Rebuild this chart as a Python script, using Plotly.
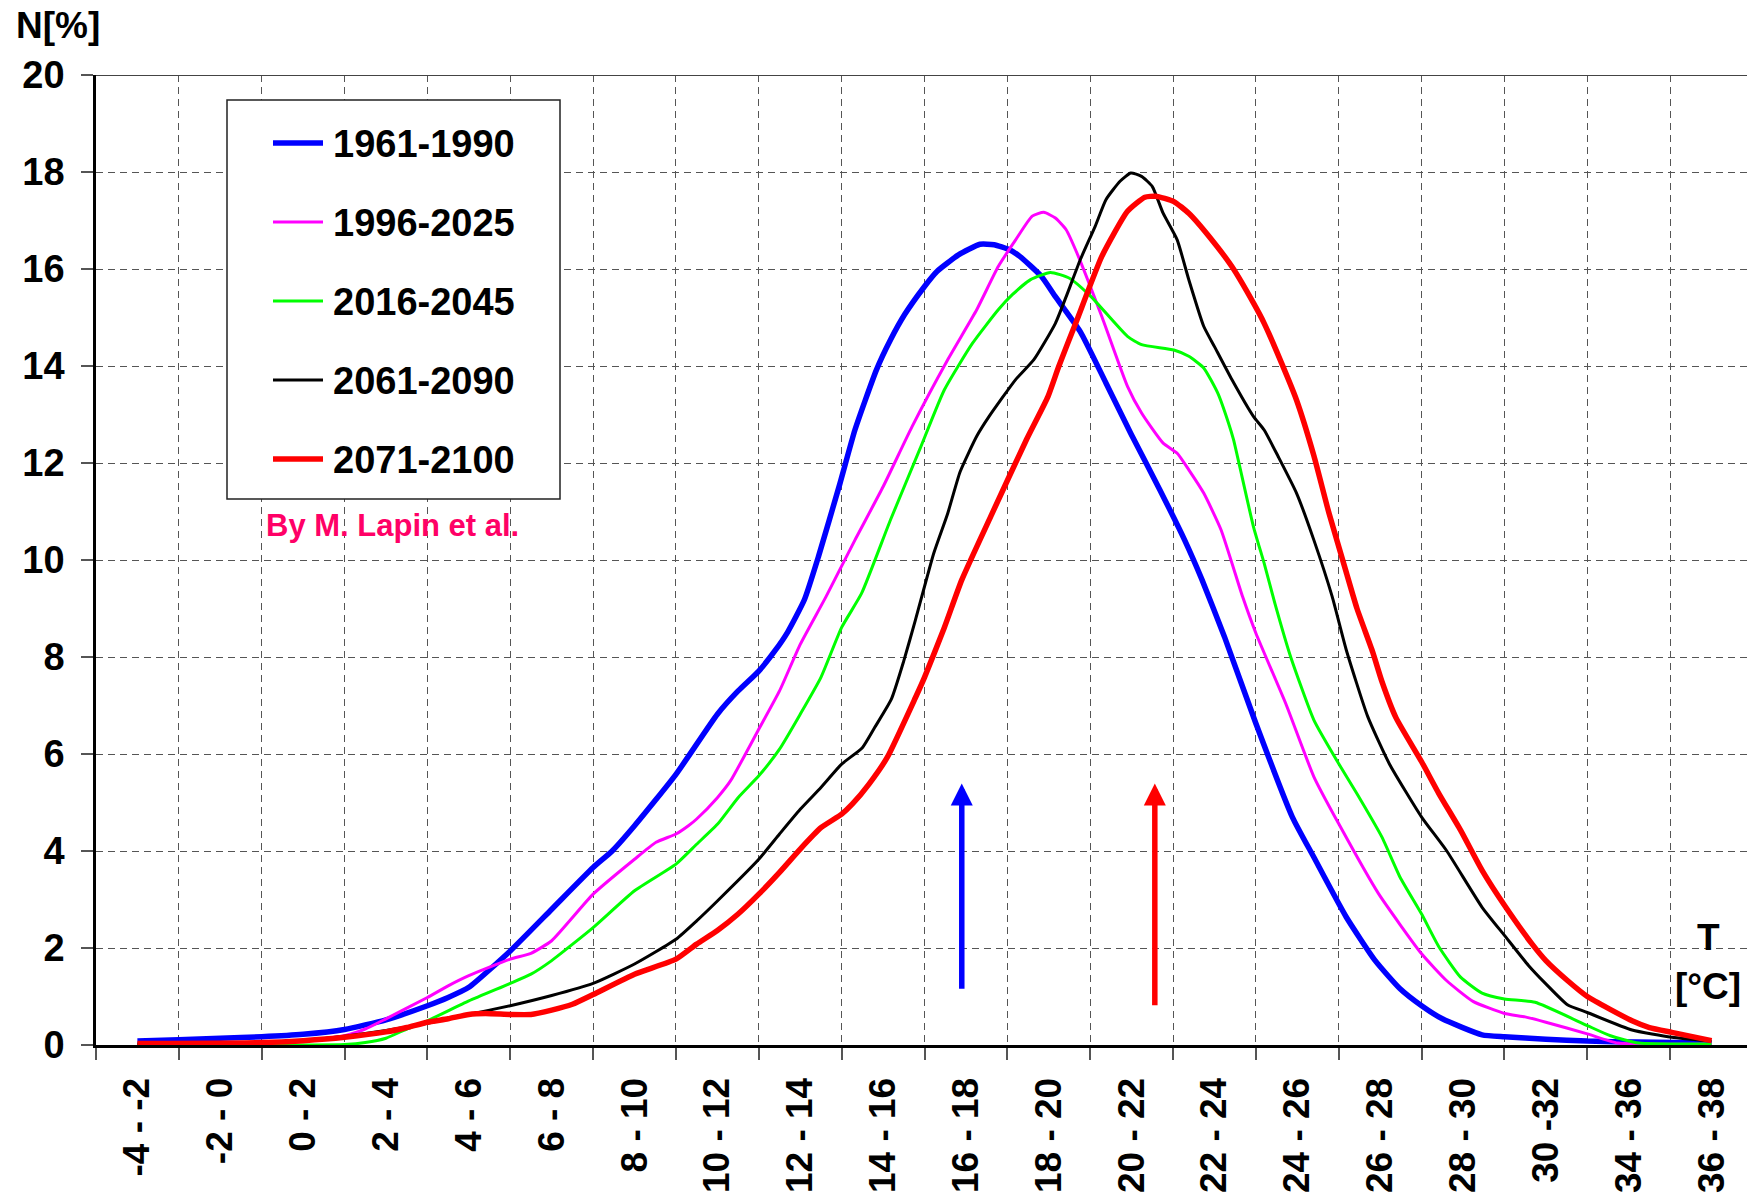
import plotly.graph_objects as go

FONT = "Liberation Sans, Arial, sans-serif"

# ---------------- data ----------------
categories = ["-4 - -2", "-2 - 0", "0 - 2", "2 - 4", "4 - 6", "6 - 8", "8 - 10",
              "10 - 12", "12 - 14", "14 - 16", "16 - 18", "18 - 20", "20 - 22",
              "22 - 24", "24 - 26", "26 - 28", "28 - 30", "30 -32", "34 - 36", "36 - 38"]
y_ticks = [0, 2, 4, 6, 8, 10, 12, 14, 16, 18, 20]

series_names = ["1961-1990", "1996-2025", "2016-2045", "2061-2090", "2071-2100"]

# positions in bin widths from the left edge of the first bin (bin centre = n + 0.5)
pos_1961 = [0.5, 1.0, 1.5, 2.0, 2.5, 3.0, 3.5, 4.0, 4.25, 4.5, 5.0, 5.5, 6.0, 6.23, 6.5,
            7.0, 7.5, 7.75, 8.0, 8.2, 8.35, 8.55, 8.72, 8.98, 9.16, 9.42, 9.59, 9.76,
            10.0, 10.15, 10.41, 10.67, 10.84, 11.02, 11.15, 11.41, 11.58, 11.88, 12.19,
            12.49, 12.84, 13.14, 13.35, 13.62, 14.0, 14.44, 14.7, 15.09, 15.44, 15.74,
            16.0, 16.25, 16.73, 17.0, 17.5, 18.0, 18.6, 19.5]
val_1961 = [0.08, 0.11, 0.14, 0.17, 0.22, 0.32, 0.52, 0.81, 0.98, 1.19, 1.94, 2.80, 3.66, 4.0, 4.52,
            5.58, 6.82, 7.30, 7.71, 8.14, 8.52, 9.18, 10.07, 11.58, 12.68, 13.92, 14.54, 15.06,
            15.64, 15.95, 16.29, 16.51, 16.50, 16.40, 16.26, 15.85, 15.43, 14.71, 13.65,
            12.61, 11.45, 10.41, 9.59, 8.42, 6.63, 4.70, 3.87, 2.64, 1.74, 1.16,
            0.81, 0.54, 0.21, 0.17, 0.12, 0.08, 0.06, 0.04]

pos_1996 = [0.5, 1.0, 2.0, 2.5, 3.0, 3.25, 3.5, 4.0, 4.25, 4.5, 5.0, 5.25, 5.5, 6.0, 6.5,
            6.76, 7.0, 7.15, 7.25, 7.5, 7.66, 7.99, 8.25, 8.5, 8.81, 9.16, 9.5, 9.85,
            10.28, 10.63, 10.89, 11.1, 11.3, 11.44, 11.58, 11.71, 11.84, 12.14, 12.45,
            12.62, 12.88, 13.05, 13.19, 13.37, 13.58, 13.84, 14.0, 14.36, 14.7, 15.0,
            15.48, 16.0, 16.3, 16.62, 17.0, 17.25, 17.5, 18.0, 18.37, 19.5]
val_1996 = [0.02, 0.02, 0.04, 0.09, 0.19, 0.33, 0.54, 0.98, 1.22, 1.43, 1.77, 1.89, 2.15, 3.11, 3.83,
            4.18, 4.35, 4.52, 4.66, 5.10, 5.45, 6.48, 7.30, 8.26, 9.24, 10.41, 11.51, 12.75,
            14.13, 15.16, 16.05, 16.60, 17.09, 17.17, 17.05, 16.81, 16.33, 15.02, 13.58,
            13.03, 12.41, 12.20, 11.86, 11.38, 10.62, 9.24, 8.49, 7.04, 5.53, 4.56,
            3.12, 1.88, 1.33, 0.90, 0.65, 0.58, 0.47, 0.23, 0.04, 0.02]

pos_2016 = [0.5, 2.5, 3.0, 3.25, 3.5, 3.75, 4.0, 4.5, 5.0, 5.25, 5.5, 6.0, 6.5, 7.0, 7.25,
            7.5, 7.75, 8.0, 8.25, 8.5, 8.75, 9.0, 9.24, 9.59, 9.94, 10.24, 10.58, 10.89,
            11.06, 11.28, 11.52, 11.75, 12.01, 12.45, 12.62, 13.01, 13.19, 13.37, 13.54,
            13.67, 13.73, 13.97, 14.1, 14.23, 14.42, 14.7, 15.0, 15.22, 15.52, 15.74,
            16.0, 16.21, 16.47, 16.73, 17.0, 17.37, 18.0, 18.28, 18.62, 19.5]
val_2016 = [0.0, 0.0, 0.01, 0.05, 0.14, 0.33, 0.50, 0.91, 1.27, 1.46, 1.74, 2.42, 3.18, 3.73, 4.14,
            4.55, 5.10, 5.55, 6.10, 6.82, 7.58, 8.61, 9.31, 10.83, 12.27, 13.51, 14.47, 15.16,
            15.47, 15.78, 15.93, 15.81, 15.43, 14.61, 14.44, 14.33, 14.20, 13.96, 13.44,
            12.82, 12.48, 10.69, 9.93, 9.10, 8.0, 6.70, 5.80, 5.18, 4.29, 3.46,
            2.70, 2.02, 1.40, 1.07, 0.95, 0.88, 0.40, 0.19, 0.04, 0.02]

pos_2061 = [0.5, 2.0, 2.5, 3.0, 3.5, 4.0, 4.5, 5.0, 5.5, 6.0, 6.5, 7.0, 7.25, 7.5, 8.0,
            8.25, 8.5, 8.75, 9.0, 9.25, 9.4, 9.6, 9.75, 9.89, 10.11, 10.28, 10.43, 10.63,
            10.78, 11.1, 11.32, 11.58, 11.71, 11.88, 12.06, 12.19, 12.36, 12.49, 12.62,
            12.75, 12.88, 13.05, 13.19, 13.37, 13.5, 13.71, 13.97, 14.1, 14.27, 14.49,
            14.7, 14.92, 15.09, 15.35, 15.61, 16.0, 16.3, 16.73, 17.0, 17.29, 17.5, 17.76,
            18.0, 18.54, 19.02, 19.5]
val_2061 = [0.02, 0.04, 0.09, 0.18, 0.30, 0.45, 0.63, 0.81, 1.02, 1.27, 1.67, 2.18, 2.56, 2.97, 3.83,
            4.35, 4.86, 5.31, 5.79, 6.13, 6.55, 7.13, 7.92, 8.76, 10.13, 10.96, 11.82, 12.55,
            12.96, 13.72, 14.13, 14.88, 15.43, 16.19, 16.88, 17.43, 17.81, 17.98, 17.91,
            17.70, 17.15, 16.60, 15.78, 14.82, 14.40, 13.72, 12.96, 12.68, 12.13, 11.38,
            10.41, 9.25, 8.15, 6.77, 5.80, 4.70, 4.01, 2.84, 2.26, 1.64, 1.26, 0.83,
            0.67, 0.31, 0.16, 0.08]

pos_2071 = [0.5, 2.0, 2.5, 3.0, 3.5, 3.75, 4.0, 4.25, 4.5, 4.7, 5.0, 5.25, 5.5, 5.75, 6.0,
            6.5, 7.0, 7.25, 7.5, 7.75, 8.0, 8.25, 8.5, 8.75, 9.0, 9.13, 9.33, 9.55, 9.89,
            10.0, 10.24, 10.45, 10.8, 11.23, 11.49, 11.62, 11.84, 12.14, 12.45, 12.66,
            12.79, 13.01, 13.19, 13.45, 13.71, 13.97, 14.1, 14.31, 14.49, 14.7, 14.88,
            15.09, 15.22, 15.41, 15.52, 15.69, 16.0, 16.21, 16.47, 16.73, 17.0, 17.33,
            17.5, 17.76, 18.0, 18.54, 18.75, 19.02, 19.5]
val_2071 = [0.03, 0.05, 0.09, 0.16, 0.27, 0.36, 0.47, 0.54, 0.63, 0.65, 0.63, 0.63, 0.72, 0.84, 1.04,
            1.46, 1.77, 2.08, 2.36, 2.70, 3.11, 3.56, 4.04, 4.48, 4.76, 4.97, 5.38, 5.93, 7.16,
            7.58, 8.61, 9.59, 10.90, 12.48, 13.37, 13.99, 14.95, 16.26, 17.19, 17.48,
            17.50, 17.39, 17.15, 16.64, 16.05, 15.30, 14.88, 14.06, 13.30, 12.15, 10.98,
            9.75, 9.00, 8.10, 7.50, 6.75, 5.84, 5.18, 4.43, 3.60, 2.88, 2.09,
            1.74, 1.33, 1.0, 0.50, 0.36, 0.26, 0.09]

# arrows (position in bin widths, tail value, tip value)
arrow_pos = [10.45, 12.78]
arrow_tail = [1.13, 0.79]
arrow_tip = [5.39, 5.39]

# ---------------- styling ----------------
colors = ["#0000FF", "#FF00FF", "#00FF00", "#000000", "#FF0000"]
widths = [5.5, 3, 3, 3, 5.5]
arrow_colors = ["#0000FF", "#FF0000"]
GRID = "#555555"
DASH = "7px,5px"

W, H = 1747, 1197
L, R, T, B = 96, 0, 75, 152
PW, PH = W - L - R, H - T - B
BIN_PX = 82.85
x_range = [-0.5, -0.5 + PW / BIN_PX]


def px_x(px):
    return (px - L) / PW


def px_y(py):
    return (H - B - py) / PH


fig = go.Figure()
all_pos = [pos_1961, pos_1996, pos_2016, pos_2061, pos_2071]
all_val = [val_1961, val_1996, val_2016, val_2061, val_2071]
for name, p, v, c, w in zip(series_names, all_pos, all_val, colors, widths):
    fig.add_trace(go.Scatter(
        x=[q - 0.5 for q in p], y=v, mode="lines", name=name,
        line=dict(color=c, width=w, shape="spline", smoothing=0.5),
        showlegend=False, hoverinfo="skip"))

fig.update_layout(
    width=W, height=H,
    margin=dict(l=L, r=R, t=T, b=B, autoexpand=False),
    paper_bgcolor="white", plot_bgcolor="white",
    font=dict(family=FONT, color="black"),
    xaxis=dict(
        range=x_range, tickmode="array", tickvals=list(range(len(categories))),
        ticktext=categories, tickangle=-90,
        tickfont=dict(family=FONT, size=37, color="black", weight="bold"),
        ticks="outside", ticklen=12, tickcolor="rgba(0,0,0,0)", ticklabelstandoff=3,
        showgrid=False, zeroline=False, showline=True, linecolor="black", linewidth=3,
        automargin=False,
        minor=dict(tickmode="array", tickvals=[k - 0.5 for k in range(len(categories) + 1)],
                   ticks="outside", ticklen=12, tickcolor=GRID, tickwidth=1.5,
                   showgrid=True, gridcolor=GRID, griddash=DASH, gridwidth=1.3),
    ),
    yaxis=dict(
        range=[0, 20], tickmode="array", tickvals=y_ticks,
        tickfont=dict(family=FONT, size=38, color="black", weight="bold"),
        ticks="outside", ticklen=12, tickcolor=GRID, tickwidth=1.5, ticklabelstandoff=9,
        showgrid=True, gridcolor=GRID, griddash=DASH, gridwidth=1.3,
        zeroline=False, showline=True, linecolor="black", linewidth=2.5,
        automargin=False,
    ),
)

# top border
fig.add_shape(type="line", xref="paper", yref="y", x0=0, x1=1, y0=20, y1=20,
              line=dict(color="#444444", width=2))

# arrows
for p, t0, t1, c in zip(arrow_pos, arrow_tail, arrow_tip, arrow_colors):
    fig.add_annotation(x=p - 0.5, y=t1, ax=p - 0.5, ay=t0, xref="x", yref="y",
                       axref="x", ayref="y", text="", showarrow=True,
                       arrowhead=2, arrowsize=0.8, arrowwidth=5.5, arrowcolor=c, standoff=0)

# legend box (drawn manually)
fig.add_shape(type="rect", xref="paper", yref="paper",
              x0=px_x(227), x1=px_x(560), y0=px_y(499), y1=px_y(100),
              line=dict(color="#222222", width=1.5), fillcolor="white", layer="above")
entry_y = [143, 222, 301, 380, 459]
for name, c, w, ey in zip(series_names, colors, widths, entry_y):
    fig.add_shape(type="line", xref="paper", yref="paper",
                  x0=px_x(273), x1=px_x(323), y0=px_y(ey), y1=px_y(ey),
                  line=dict(color=c, width=w), layer="above")
    fig.add_annotation(x=px_x(331), y=px_y(ey + 1), xref="paper", yref="paper",
                       text=name, showarrow=False, xanchor="left", yanchor="middle",
                       font=dict(family=FONT, size=38, color="black", weight="bold"))

# credit
fig.add_annotation(x=px_x(392), y=px_y(525), xref="paper", yref="paper",
                   text="By M. Lapin et al.", showarrow=False, xanchor="center", yanchor="middle",
                   font=dict(family=FONT, size=31, color="#FF0066", weight="bold"))

# axis titles
fig.add_annotation(x=px_x(14), y=px_y(26), xref="paper", yref="paper",
                   text="N[%]", showarrow=False, xanchor="left", yanchor="middle",
                   font=dict(family=FONT, size=37, color="black", weight="bold"))
fig.add_annotation(x=px_x(1708), y=px_y(937), xref="paper", yref="paper",
                   text="T", showarrow=False, xanchor="center", yanchor="middle",
                   font=dict(family=FONT, size=37, color="black", weight="bold"))
fig.add_annotation(x=px_x(1708), y=px_y(986), xref="paper", yref="paper",
                   text="[°C]", showarrow=False, xanchor="center", yanchor="middle",
                   font=dict(family=FONT, size=37, color="black", weight="bold"))

fig.write_html("out.html")
